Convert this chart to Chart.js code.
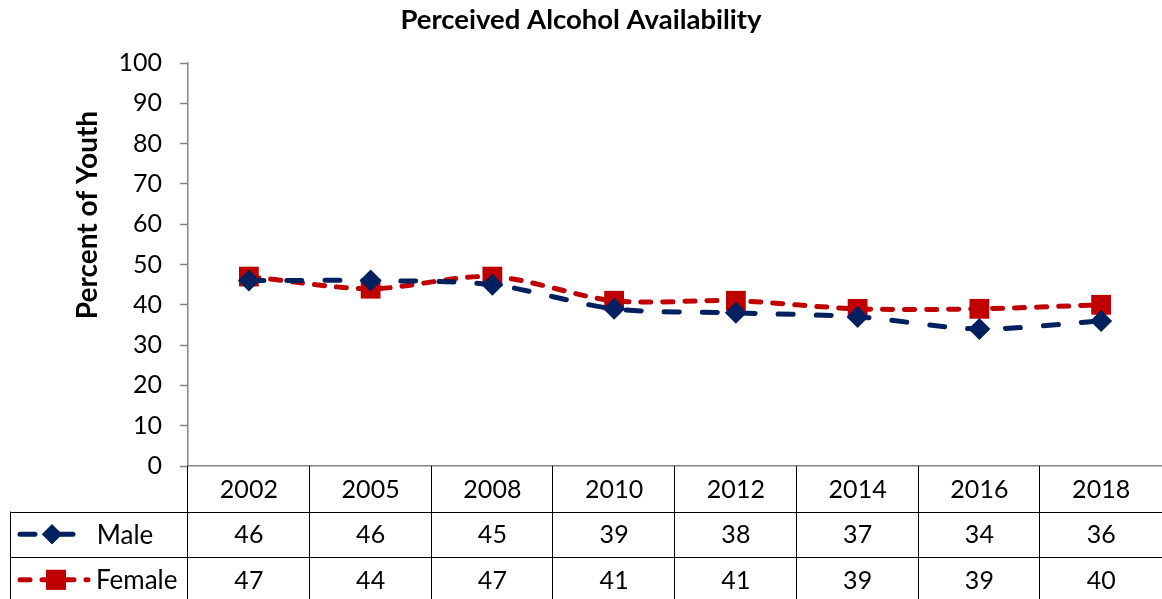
<!DOCTYPE html>
<html><head><meta charset="utf-8">
<script src="https://cdn.jsdelivr.net/npm/chart.js@4/dist/chart.umd.min.js"></script>
<style>html,body{margin:0;padding:0;background:#fff;overflow:hidden}#wrap{width:1162px;height:599px;overflow:hidden}canvas{display:block}</style>
</head><body><div id="wrap"><canvas id="c" width="1162" height="599"></canvas></div>
<script>
const categories = ['2002','2005','2008','2010','2012','2014','2016','2018'];
const maleValues = [46,46,45,39,38,37,34,36];
const femaleValues = [47,44,47,41,41,39,39,40];
const yTicks = [0,10,20,30,40,50,60,70,80,90,100];
const seriesNames = ['Male','Female'];
const chartTitle = 'Perceived Alcohol Availability';
const yAxisTitle = 'Percent of Youth';

const FONT = 'Lato';
const NAVY = '#002060', RED = '#C00000';

const tablePlugin = {
  id: 'dataTable',
  afterDraw(chart) {
    const ctx = chart.ctx, x = chart.scales.x, ca = chart.chartArea;
    const top = ca.bottom, rowH = 45.5;
    const left = ca.left, right = ca.right;
    const n = categories.length;
    const colW = (right - left) / n;
    ctx.save();
    ctx.strokeStyle = '#000'; ctx.lineWidth = 1;
    ctx.beginPath();
    for (let i = 0; i < n; i++) {
      const xx = Math.round(left + i * colW) - 0.5;
      ctx.moveTo(xx, top); ctx.lineTo(xx, 599);
    }
    ctx.moveTo(10.5, top + rowH); ctx.lineTo(10.5, 599);
    ctx.moveTo(10, Math.round(top + rowH) + 0.5); ctx.lineTo(right, Math.round(top + rowH) + 0.5);
    ctx.moveTo(10, Math.round(top + 2 * rowH) + 0.5); ctx.lineTo(right, Math.round(top + 2 * rowH) + 0.5);
    ctx.stroke();
    ctx.fillStyle = '#000';
    ctx.font = '25px ' + FONT;
    ctx.textAlign = 'center'; ctx.textBaseline = 'middle';
    const rows = [categories, maleValues, femaleValues];
    rows.forEach((r, ri) => {
      const cy = top + rowH * ri + rowH / 2 + 1;
      r.forEach((v, i) => ctx.fillText(String(v), x.getPixelForValue(i), cy));
    });
    const ds = chart.data.datasets;
    [0, 1].forEach(k => {
      const cy = top + rowH * (k + 1) + rowH / 2;
      const d = ds[k];
      ctx.save();
      ctx.strokeStyle = d.borderColor; ctx.lineWidth = 5; ctx.lineCap = 'round';
      ctx.setLineDash(d.borderDash);
      ctx.beginPath();
      if (k === 0) { ctx.moveTo(20, cy); ctx.lineTo(74, cy); }
      else { ctx.moveTo(20, cy); ctx.lineTo(88, cy); }
      ctx.stroke();
      ctx.restore();
      ctx.fillStyle = d.borderColor;
      Chart.helpers.drawPoint(ctx, {pointStyle: d.pointStyle, radius: k === 0 ? 10 : 14, rotation: 0, borderWidth: 0}, k === 0 ? 52 : 56, cy);
      ctx.fill();
      ctx.fillStyle = '#000';
      ctx.font = '26px ' + FONT;
      ctx.textAlign = k === 0 ? 'center' : 'left';
      ctx.fillText(seriesNames[k], k === 0 ? 125 : 96, cy + 1);
    });
    ctx.save();
    ctx.translate(88, 215);
    ctx.rotate(-Math.PI / 2);
    ctx.font = 'bold 28px ' + FONT;
    ctx.textAlign = 'center'; ctx.textBaseline = 'middle';
    ctx.fillText(yAxisTitle, 0, 0);
    ctx.restore();
    ctx.restore();
  }
};

new Chart(document.getElementById('c'), {
  type: 'line',
  data: {
    labels: categories,
    datasets: [
      { label: seriesNames[0], data: maleValues, borderColor: NAVY, backgroundColor: NAVY,
        borderWidth: 5, borderDash: [15, 23], borderCapStyle: 'round', tension: 0.3,
        pointStyle: 'rectRot', pointRadius: 11, pointBorderWidth: 0, pointBackgroundColor: NAVY },
      { label: seriesNames[1], data: femaleValues, borderColor: RED, backgroundColor: RED,
        borderWidth: 5, borderDash: [10, 12], borderCapStyle: 'round', tension: 0.3,
        pointStyle: 'rect', pointRadius: 14, pointBorderWidth: 0, pointBackgroundColor: RED }
    ]
  },
  options: {
    responsive: false, animation: false,
    layout: { autoPadding: false, padding: { left: 0, right: 0, top: 0, bottom: 0 } },
    plugins: {
      legend: { display: false }, tooltip: { enabled: false },
      title: { display: true, text: chartTitle, color: '#000',
        font: { family: FONT, size: 27.5, weight: 'bold' }, padding: { top: 4, bottom: 26 } }
    },
    scales: {
      x: {
        offset: true,
        grid: { display: false, drawTicks: false },
        border: { display: true, color: '#868686', width: 1.5 },
        ticks: { display: false },
        afterFit: s => { s.height = 133; }
      },
      y: {
        min: 0, max: 100,
        afterBuildTicks: s => { s.ticks = yTicks.map(v => ({ value: v })); },
        grid: { drawOnChartArea: false, drawTicks: true, tickLength: 8, color: '#868686', tickWidth: 1.5 },
        border: { display: true, color: '#868686', width: 1.5 },
        ticks: { color: '#000', font: { family: FONT, size: 25 }, padding: 18 },
        afterFit: s => { s.width = 188; }
      }
    }
  },
  plugins: [tablePlugin]
});
</script></body></html>
